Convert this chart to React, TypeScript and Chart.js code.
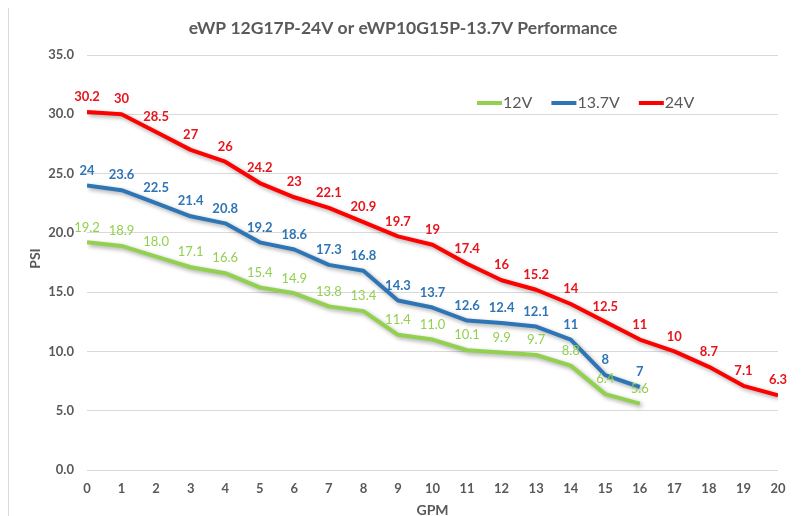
import React, { useEffect, useRef } from "react";
import { Chart, registerables } from "chart.js";

Chart.register(...registerables);

const gpm = [0, 1, 2, 3, 4, 5, 6, 7, 8, 9, 10, 11, 12, 13, 14, 15, 16, 17, 18, 19, 20];
const psi12V = [19.2, 18.9, 18.0, 17.1, 16.6, 15.4, 14.9, 13.8, 13.4, 11.4, 11.0, 10.1, 9.9, 9.7, 8.8, 6.4, 5.6];
const psi137V = [24, 23.6, 22.5, 21.4, 20.8, 19.2, 18.6, 17.3, 16.8, 14.3, 13.7, 12.6, 12.4, 12.1, 11, 8, 7];
const psi24V = [30.2, 30, 28.5, 27, 26, 24.2, 23, 22.1, 20.9, 19.7, 19, 17.4, 16, 15.2, 14, 12.5, 11, 10, 8.7, 7.1, 6.3];
const seriesNames = ["12V", "13.7V", "24V"];
const yTicks = [0, 5, 10, 15, 20, 25, 30, 35];

const TITLE = "eWP 12G17P-24V or eWP10G15P-13.7V Performance";
const FONT = "Lato, 'Open Sans', sans-serif";
const GRAY = "#595959";

const lineColors = ["#92D050", "#2E75B6", "#FF0000"];
const labelColors = ["#92D050", "#2E75B6", "#E8141C"];
const labelWeights = ["normal", "bold", "bold"];
const labelDecimals = [1, -1, -1];

const toPoints = (vals: number[]) => vals.map((v, i) => ({ x: gpm[i], y: v }));

const customPlugin = {
  id: "custom",
  beforeDatasetDraw(chart: any) {
    const ctx = chart.ctx;
    ctx.save();
    ctx.shadowColor = "rgba(0,0,0,0.35)";
    ctx.shadowBlur = 4;
    ctx.shadowOffsetX = 2;
    ctx.shadowOffsetY = 2;
  },
  afterDatasetDraw(chart: any) {
    chart.ctx.restore();
  },
  afterDatasetsDraw(chart: any) {
    const ctx = chart.ctx;
    chart.data.datasets.forEach((ds: any, di: number) => {
      const meta = chart.getDatasetMeta(di);
      ctx.save();
      ctx.font = `${labelWeights[di]} 13px ${FONT}`;
      ctx.fillStyle = labelColors[di];
      ctx.textAlign = "center";
      ctx.textBaseline = "middle";
      meta.data.forEach((el: any, i: number) => {
        const v = ds.data[i].y as number;
        const txt = labelDecimals[di] >= 0 ? v.toFixed(labelDecimals[di]) : String(v);
        ctx.fillText(txt, el.x, el.y - 15);
      });
      ctx.restore();
    });
  },
  afterDraw(chart: any) {
    const ctx = chart.ctx;
    const ca = chart.chartArea;
    ctx.save();
    // title
    ctx.font = `bold 17.5px ${FONT}`;
    ctx.fillStyle = GRAY;
    ctx.textAlign = "center";
    ctx.textBaseline = "middle";
    ctx.fillText(TITLE, chart.width / 2, 22);
    // axis titles
    ctx.font = `bold 14px ${FONT}`;
    ctx.fillText("GPM", (ca.left + ca.right) / 2, ca.bottom + 40);
    ctx.save();
    ctx.translate(ca.left - 52, (ca.top + ca.bottom) / 2 - 4);
    ctx.rotate(-Math.PI / 2);
    ctx.fillText("PSI", 0, 0);
    ctx.restore();
    // legend
    ctx.font = `normal 16px ${FONT}`;
    ctx.textAlign = "left";
    let x = ca.left + 390;
    const y = ca.top + 48;
    seriesNames.forEach((name, i) => {
      ctx.strokeStyle = lineColors[i];
      ctx.lineWidth = 4;
      ctx.beginPath();
      ctx.moveTo(x, y);
      ctx.lineTo(x + 25, y);
      ctx.stroke();
      ctx.fillStyle = GRAY;
      ctx.fillText(name, x + 26, y);
      x += 26 + ctx.measureText(name).width + 19;
    });
    ctx.restore();
  },
};

export default function App() {
  const ref = useRef<HTMLCanvasElement>(null);
  useEffect(() => {
    document.documentElement.style.overflow = "hidden";
    const chart = new Chart(ref.current!, {
      type: "line",
      data: {
        datasets: [
          { label: seriesNames[0], data: toPoints(psi12V), borderColor: lineColors[0], backgroundColor: lineColors[0] },
          { label: seriesNames[1], data: toPoints(psi137V), borderColor: lineColors[1], backgroundColor: lineColors[1] },
          { label: seriesNames[2], data: toPoints(psi24V), borderColor: lineColors[2], backgroundColor: lineColors[2] },
        ].map((d) => ({ ...d, borderWidth: 4, pointRadius: 0, tension: 0, fill: false, borderJoinStyle: "round" as const })),
      },
      options: {
        animation: false,
        responsive: false,
        layout: { padding: { top: 49, right: 19, left: 0, bottom: 0 } },
        plugins: { legend: { display: false }, title: { display: false }, tooltip: { enabled: false } },
        scales: {
          x: {
            type: "linear",
            min: gpm[0],
            max: gpm[gpm.length - 1],
            grid: { display: false, drawTicks: false },
            border: { display: false },
            ticks: {
              stepSize: 1,
              padding: 11,
              color: GRAY,
              font: { family: FONT, size: 13, weight: "bold" },
              callback: (v: any) => String(v),
            },
            afterFit: (s: any) => {
              s.height = 46;
            },
          },
          y: {
            min: yTicks[0],
            max: yTicks[yTicks.length - 1],
            grid: { color: "#D9D9D9", lineWidth: 1, drawTicks: false },
            border: { display: false },
            ticks: {
              stepSize: 5,
              padding: 13,
              color: GRAY,
              font: { family: FONT, size: 13, weight: "bold" },
              callback: (v: any) => Number(v).toFixed(1),
            },
            afterFit: (s: any) => {
              s.width = 78;
            },
          },
        },
      },
      plugins: [customPlugin],
    });
    return () => chart.destroy();
  }, []);
  return (
    <div
      style={{
        marginTop: -3,
        width: 788,
        height: 516,
        borderTop: "1px solid #D9D9D9",
        borderLeft: "1px solid #D9D9D9",
        borderRight: "1px solid #D9D9D9",
        background: "#fff",
      }}
    >
      <canvas ref={ref} width={788} height={510} style={{ display: "block" }} />
    </div>
  );
}
